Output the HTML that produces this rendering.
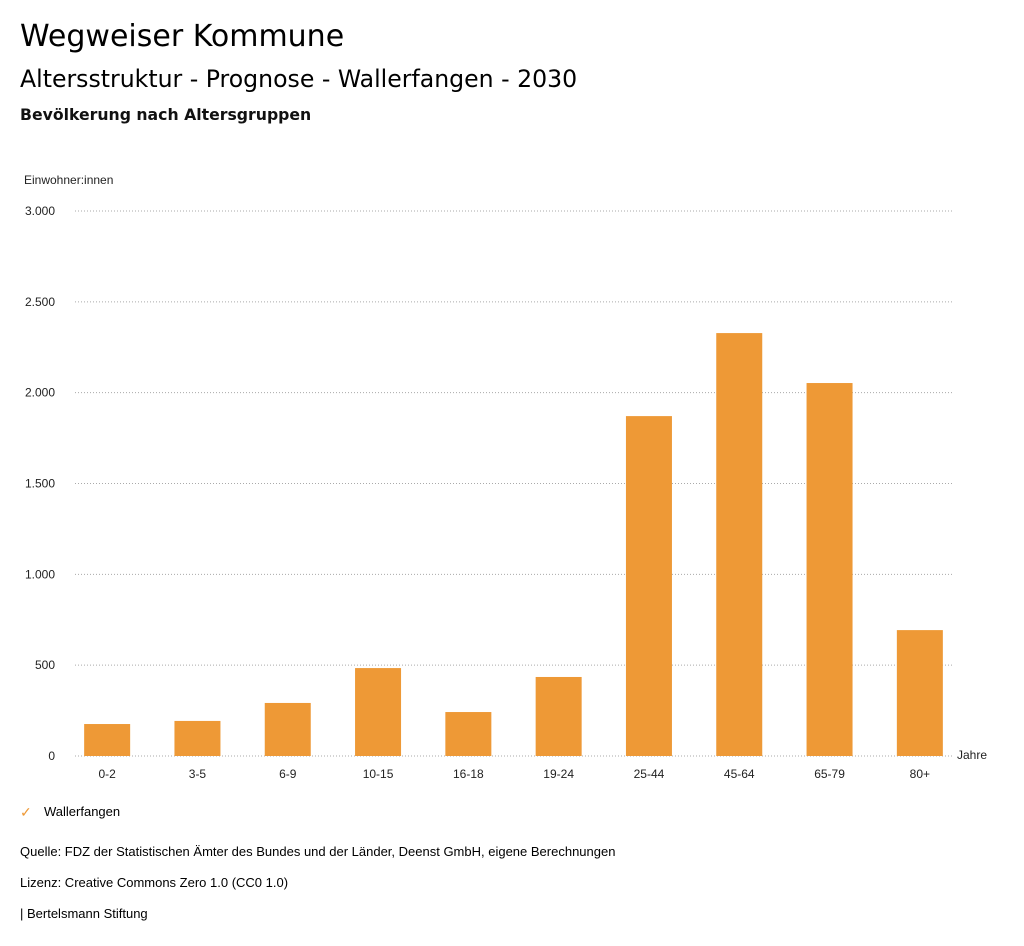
<!DOCTYPE html>
<html><head><meta charset="utf-8"><style>
body{margin:0;background:#fff;font-family:"Liberation Sans",sans-serif;color:#000;}
.wrap{position:relative;width:1024px;height:946px;overflow:hidden}
.t{position:absolute;left:20px;white-space:nowrap}
.dv{font-family:"DejaVu Sans","Liberation Sans",sans-serif}
</style></head><body>
<div class="wrap">
<div class="t dv" style="top:19px;font-size:30px">Wegweiser Kommune</div>
<div class="t dv" style="top:65px;font-size:23.6px">Altersstruktur - Prognose - Wallerfangen - 2030</div>
<div class="t dv" style="top:105px;font-size:15.7px;font-weight:bold;color:#111">Bevölkerung nach Altersgruppen</div>
<svg id="chart" width="1024" height="800" style="position:absolute;left:0;top:0" font-family="Liberation Sans, sans-serif"></svg>
<div class="t" style="top:804px;font-size:13px"><span style="color:#ee9936;font-size:14px">✓</span><span style="position:absolute;left:24px">Wallerfangen</span></div>
<div class="t" style="top:844px;font-size:13px">Quelle: FDZ der Statistischen Ämter des Bundes und der Länder, Deenst GmbH, eigene Berechnungen</div>
<div class="t" style="top:875px;font-size:13px">Lizenz: Creative Commons Zero 1.0 (CC0 1.0)</div>
<div class="t" style="top:906px;font-size:13px">| Bertelsmann Stiftung</div>
</div>
<script>
const categories=["0-2","3-5","6-9","10-15","16-18","19-24","25-44","45-64","65-79","80+"];
const values=[176,193,292,484,242,435,1871,2328,2053,693];
const yTicks=[0,500,1000,1500,2000,2500,3000];
const yTickLabels=["0","500","1.000","1.500","2.000","2.500","3.000"];
const NS="http://www.w3.org/2000/svg";
const svg=document.getElementById("chart");
const y0=756,yTop=211,yMax=3000,xL=62,band=90.3,bw=46;
const y=v=>y0-(v/yMax)*(y0-yTop);
const x=i=>xL+band*i+band/2;
function el(tag,attrs,txt){const e=document.createElementNS(NS,tag);for(const k in attrs)e.setAttribute(k,attrs[k]);if(txt!=null)e.textContent=txt;svg.appendChild(e);return e;}
yTicks.forEach((t,i)=>{
 const g=el("line",{x1:75,x2:953,y1:y(t),y2:y(t),stroke:"#aaa","stroke-width":1,"stroke-dasharray":"1,2"});
 
 
 const l=el("text",{x:55,y:y(t)+4,"text-anchor":"end","font-size":12,fill:"#222"},yTickLabels[i]);
 
 
});
const yt=el("text",{x:24,y:184,"font-size":12,fill:"#222"},"Einwohner:innen");


const xt=el("text",{x:957,y:759,"font-size":12,fill:"#222"},"Jahre");


categories.forEach((c,i)=>{
 const r=el("rect",{x:x(i)-bw/2,y:y(values[i]),width:bw,height:y0-y(values[i]),fill:"#ee9936"});
 
 
 const l=el("text",{x:x(i),y:778,"text-anchor":"middle","font-size":12,fill:"#222"},c);
 
 
});
</script>
</body></html>
